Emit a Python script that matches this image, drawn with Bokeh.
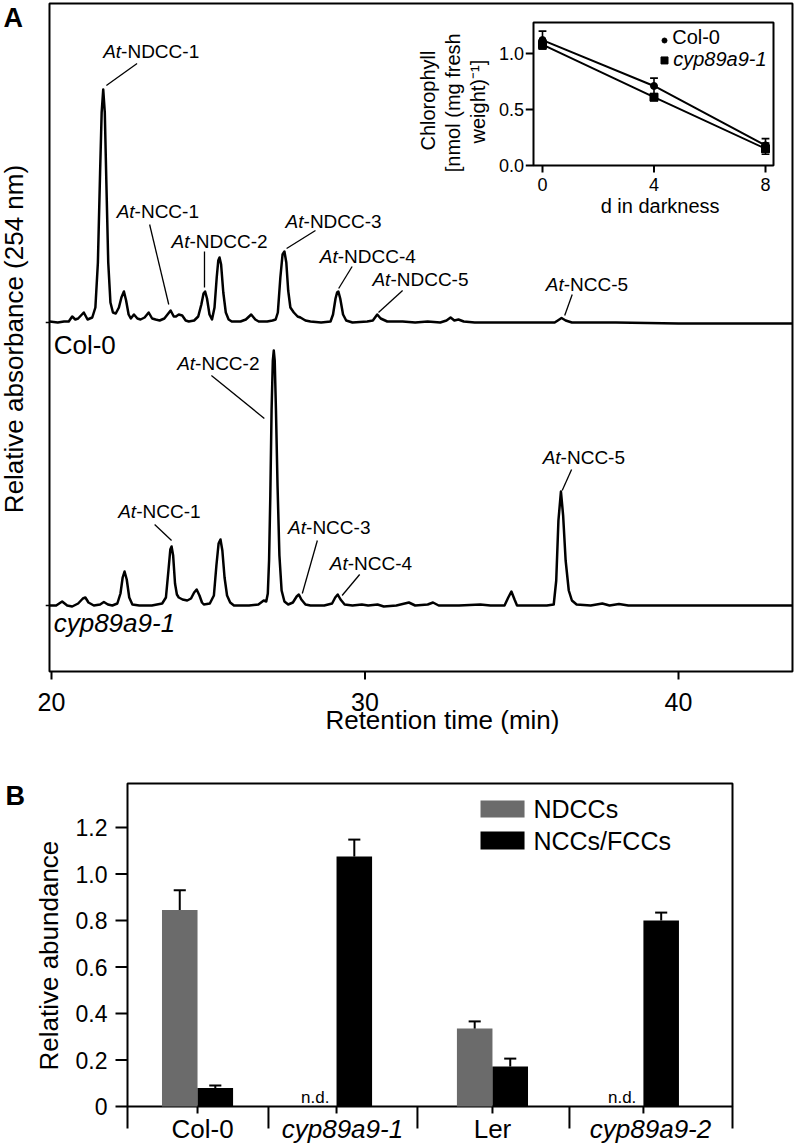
import math
from bokeh.plotting import figure
from bokeh.models import Range1d, ColumnDataSource
from bokeh.embed import file_html
from bokeh.resources import INLINE
from bokeh.core.properties import value

FONT = "Liberation Sans"

# ---------------- Panel A data: chromatograms ----------------
col0_time = [19.94, 20.20, 20.40, 20.55, 20.66, 20.76, 20.85, 21.03, 21.15, 21.30,
             21.40, 21.48, 21.55, 21.60, 21.65, 21.70, 21.75, 21.81, 21.88, 21.96,
             22.05, 22.15, 22.23, 22.31, 22.38, 22.46, 22.53, 22.63, 22.74, 22.84,
             22.97, 23.10, 23.21, 23.32, 23.45, 23.60, 23.80, 23.90, 23.97, 24.06,
             24.17, 24.28, 24.38, 24.55, 24.68, 24.78, 24.85, 24.90, 24.96, 25.04,
             25.12, 25.20, 25.27, 25.32, 25.36, 25.41, 25.48, 25.56, 25.65, 25.75,
             26.03, 26.20, 26.37, 26.50, 26.61, 26.88, 27.05, 27.15, 27.22, 27.30,
             27.37, 27.43, 27.49, 27.55, 27.62, 27.73, 27.85, 27.94, 28.10, 28.26,
             28.60, 28.90, 28.98, 29.06, 29.11, 29.15, 29.21, 29.30, 29.40, 29.60,
             30.07, 30.25, 30.39, 30.50, 30.71, 31.20, 31.60, 32.00, 32.40, 32.60,
             32.73, 32.85, 32.98, 33.15, 33.50, 34.50, 35.50, 36.05, 36.15, 36.27,
             36.40, 36.60, 38.00, 40.00, 43.63]
col0_abs = [0.01, 0.00, 0.01, 0.01, 0.06, 0.03, 0.04, 0.10, 0.03, 0.05,
            0.15, 0.60, 1.50, 2.10, 2.33, 2.10, 1.40, 0.60, 0.20, 0.10,
            0.09, 0.15, 0.25, 0.31, 0.22, 0.08, 0.04, 0.08, 0.04, 0.03,
            0.05, 0.10, 0.04, 0.03, 0.02, 0.04, 0.12, 0.06, 0.06, 0.08,
            0.07, 0.02, 0.01, 0.02, 0.06, 0.18, 0.29, 0.31, 0.24, 0.08,
            0.03, 0.15, 0.45, 0.62, 0.65, 0.58, 0.30, 0.10, 0.03, 0.01,
            0.01, 0.03, 0.08, 0.03, 0.01, 0.01, 0.02, 0.03, 0.10, 0.45,
            0.68, 0.71, 0.60, 0.32, 0.15, 0.10, 0.06, 0.05, 0.02, 0.01,
            0.00, 0.01, 0.08, 0.24, 0.30, 0.31, 0.24, 0.08, 0.02, 0.00,
            0.01, 0.02, 0.08, 0.04, 0.01, 0.01, 0.00, 0.01, 0.00, 0.02,
            0.05, 0.02, 0.03, 0.01, 0.00, 0.00, 0.00, 0.00, 0.02, 0.045,
            0.02, 0.00, 0.00, -0.01, -0.01]

cyp_time = [19.94, 20.15, 20.34, 20.50, 20.66, 20.85, 21.00, 21.08, 21.18, 21.35,
            21.55, 21.67, 21.80, 21.94, 22.10, 22.20, 22.27, 22.33, 22.40, 22.48,
            22.58, 22.80, 23.20, 23.53, 23.65, 23.73, 23.79, 23.83, 23.88, 23.94,
            24.00, 24.06, 24.18, 24.33, 24.45, 24.55, 24.63, 24.72, 24.80, 24.86,
            25.05, 25.18, 25.26, 25.33, 25.39, 25.45, 25.52, 25.60, 25.70, 25.82,
            26.30, 26.60, 26.77, 26.85, 26.90, 26.94, 26.98, 27.02, 27.06, 27.09,
            27.12, 27.16, 27.21, 27.27, 27.34, 27.43, 27.55, 27.70, 27.82, 27.89,
            27.97, 28.10, 28.26, 28.70, 28.95, 29.05, 29.13, 29.22, 29.35, 29.60,
            29.90, 30.10, 30.40, 30.60, 31.00, 31.40, 31.60, 32.00, 32.17, 32.35,
            33.00, 33.68, 34.00, 34.45, 34.57, 34.67, 34.77, 34.85, 35.30, 35.80,
            36.02, 36.10, 36.17, 36.25, 36.32, 36.40, 36.50, 36.60, 36.75, 37.20,
            37.57, 37.80, 38.10, 38.40, 40.00, 43.63]
cyp_abs = [0.00, 0.00, 0.04, 0.00, -0.01, 0.02, 0.07, 0.08, 0.03, 0.00,
           0.01, 0.035, 0.01, 0.00, 0.02, 0.12, 0.28, 0.34, 0.26, 0.08,
           0.01, 0.00, 0.00, 0.02, 0.08, 0.35, 0.56, 0.59, 0.50, 0.22,
           0.11, 0.08, 0.06, 0.05, 0.07, 0.13, 0.16, 0.10, 0.03, 0.01,
           0.02, 0.10, 0.40, 0.62, 0.66, 0.55, 0.28, 0.10, 0.03, 0.00,
           0.00, 0.01, 0.05, 0.04, 0.12, 0.45, 1.10, 1.95, 2.45, 2.55,
           2.45, 1.95, 1.20, 0.50, 0.15, 0.04, 0.01, 0.03, 0.09, 0.11,
           0.06, 0.01, 0.00, 0.00, 0.02, 0.08, 0.11, 0.06, 0.01, 0.00,
           0.01, 0.00, 0.01, -0.01, 0.00, 0.03, 0.00, 0.01, 0.03, 0.00,
           0.00, 0.01, 0.00, 0.00, 0.08, 0.14, 0.06, 0.00, 0.00, 0.00,
           0.01, 0.25, 0.85, 1.14, 0.90, 0.45, 0.15, 0.05, 0.01, 0.00,
           0.02, 0.00, 0.015, 0.00, 0.00, 0.00]

x_ticks_a = [20, 30, 40]
trace_names = ["Col-0", "cyp89a9-1"]
peak_prefix = "At"
peak_names = ["NDCC-1", "NCC-1", "NDCC-2", "NDCC-3", "NDCC-4", "NDCC-5", "NCC-5",
              "NCC-2", "NCC-1", "NCC-3", "NCC-4", "NCC-5"]

# ---------------- Inset data: chlorophyll ----------------
dark_days = [0, 4, 8]
chl_col0 = [1.12, 0.71, 0.18]
chl_col0_err = [0.08, 0.07, 0.06]
chl_cyp = [1.08, 0.61, 0.15]
chl_cyp_err = [0.04, 0.03, 0.05]
inset_yticks = [0.0, 0.5, 1.0]

# ---------------- Panel B data ----------------
genotypes = ["Col-0", "cyp89a9-1", "Ler", "cyp89a9-2"]
genotype_italic = [False, True, False, True]
ndcc = [0.845, None, 0.335, None]
ndcc_err = [0.085, None, 0.031, None]
ncc = [0.08, 1.075, 0.172, 0.80]
ncc_err = [0.01, 0.073, 0.034, 0.034]
b_yticks = [0, 0.2, 0.4, 0.6, 0.8, 1.0, 1.2]
b_ytick_labels = ["0", "0.2", "0.4", "0.6", "0.8", "1.0", "1.2"]
series_names = ["NDCCs", "NCCs/FCCs"]

# ---------------- layout constants (positions, not data) ----------------
BLACK = "black"
GRAY = "#6b6b6b"
COL0_OFFSET = 2.83
# panel A frame (minutes / absorbance units)
A_X0, A_X1, A_Y0, A_Y1 = 19.936, 43.636, -0.66, 6.02
label_t = [22.22, 22.65, 24.40, 28.04, 29.13, 30.81, 36.34, 24.58, 22.70, 28.12, 29.45, 36.24]
label_y = [5.545, 3.945, 3.645, 3.845, 3.495, 3.265, 3.215, 2.425, 0.945, 0.785, 0.425, 1.485]
lead_t0 = [22.73, 23.13, 24.88, 28.42, 29.59, 31.20, 36.61, 25.10, 23.29, 28.48, 29.83, 36.59]
lead_y0 = [5.42, 3.81, 3.54, 3.75, 3.39, 3.15, 3.11, 2.30, 0.81, 0.65, 0.31, 1.36]
lead_t1 = [21.75, 23.74, 24.88, 27.50, 29.16, 30.43, 36.37, 26.79, 23.83, 28.00, 29.27, 36.29]
lead_y1 = [5.20, 3.01, 3.18, 3.57, 3.17, 2.93, 2.90, 1.87, 0.65, 0.12, 0.10, 1.15]
# inset frame (days / chlorophyll)
IX0, IX1, IY0, IY1 = -0.323, 8.287, 0.0, 1.277
# panel B geometry (group units / abundance)
group_x = [0.463, 1.382, 2.413, 3.411]
group_sep = [0.0, 0.932, 1.917, 2.922, 4.0]
cat_label_x = [0.496, 1.421, 2.413, 3.458]
BW = 0.235
B_X0, B_X1, B_Y0, B_Y1 = 0.0, 4.0, 0.0, 1.389


def txt(p, x, y, text, size, align="left", baseline="middle", style="normal", angle=0.0, **kw):
    p.text(x=x, y=y, text=text, text_align=align, text_baseline=baseline, angle=angle,
           text_font=value(FONT), text_font_style=style, text_font_size=size,
           text_color=BLACK, **kw)


W, H = 796, 1146
p = figure(width=W, height=H, output_backend="svg", toolbar_location=None, title=None,
           x_axis_location=None, y_axis_location=None, min_border=0,
           x_range=Range1d(18.3732, 43.7640), y_range=Range1d(-5.41, 6.05))
p.grid.visible = False
p.outline_line_color = None
p.background_fill_color = "white"
p.border_fill_color = "white"
p.extra_x_ranges = {"ix": Range1d(-19.4439, 9.1121), "bx": Range1d(-0.83967, 4.42314)}
p.extra_y_ranges = {"iy": Range1d(-8.7589, 1.4732), "by": Range1d(-0.17204, 4.75699)}
IR = dict(x_range_name="ix", y_range_name="iy")
BR = dict(x_range_name="bx", y_range_name="by")

# ======================= Panel A =======================
p.quad(left=[A_X0], right=[A_X1], bottom=[A_Y0], top=[A_Y1], fill_color=None,
       line_color=BLACK, line_width=2)
p.segment(x0=x_ticks_a, x1=x_ticks_a, y0=[A_Y0] * 3, y1=[A_Y0 - 0.08] * 3,
          line_color=BLACK, line_width=2)
txt(p, x_ticks_a, [-0.96] * 3, [str(t) for t in x_ticks_a], "25px", align="center")
p.segment(x0=[A_X0] * 2, x1=[A_X0 - 0.12] * 2, y0=[0, COL0_OFFSET], y1=[0, COL0_OFFSET],
          line_color=BLACK, line_width=1.5)
txt(p, [32.47], [-1.149], ["Retention time (min)"], "26px", align="center")
txt(p, [18.81], [2.665], ["Relative absorbance (254 nm)"], "26px", align="center",
    angle=math.pi / 2)
txt(p, [18.47], [5.875], ["A"], "27px", style="bold")

p.line(col0_time, [a + COL0_OFFSET for a in col0_abs], line_width=2.5, line_color=BLACK,
       line_join="round")
p.line(cyp_time, cyp_abs, line_width=2.5, line_color=BLACK, line_join="round")

lab_src = ColumnDataSource(dict(x=label_t, y=label_y,
                                pre=[peak_prefix] * len(peak_names),
                                suf=["-" + n for n in peak_names]))
txt(p, "x", "y", "pre", "19px", align="right", style="italic", source=lab_src)
txt(p, "x", "y", "suf", "19px", align="left", source=lab_src)
p.segment(x0=lead_t0, y0=lead_y0, x1=lead_t1, y1=lead_y1, line_width=1.3, line_color=BLACK)

txt(p, [20.07], [2.608], [trace_names[0]], "26px")
txt(p, [20.07], [-0.179], [trace_names[1]], "26px", style="italic")

# ---------------- inset ----------------
p.quad(left=[IX0], right=[IX1], bottom=[IY0], top=[IY1], fill_color=None,
       line_color=BLACK, line_width=2, **IR)
p.segment(x0=[IX0] * 3, x1=[-0.60] * 3, y0=inset_yticks, y1=inset_yticks,
          line_color=BLACK, line_width=2, **IR)
p.segment(x0=dark_days, x1=dark_days, y0=[IY0] * 3, y1=[-0.0625] * 3,
          line_color=BLACK, line_width=2, **IR)
txt(p, [-0.66] * 3, inset_yticks, ["%.1f" % v for v in inset_yticks], "18px", align="right", **IR)
txt(p, dark_days, [-0.167] * 3, [str(d) for d in dark_days], "18px", align="center", **IR)
txt(p, [4.22], [-0.363], ["d in darkness"], "20px", align="center", **IR)
txt(p, [-4.09, -3.20, -2.30], [0.58, 0.56, 0.57],
    ["Chlorophyll", "[nmol (mg fresh", "weight)\u207b\u00b9]"], "20px",
    align="center", angle=math.pi / 2, **IR)

CAP = 0.14
for vals, errs in ((chl_col0, chl_col0_err), (chl_cyp, chl_cyp_err)):
    lo = [v - e for v, e in zip(vals, errs)]
    hi = [v + e for v, e in zip(vals, errs)]
    xl = [d - CAP for d in dark_days]
    xr = [d + CAP for d in dark_days]
    p.segment(x0=dark_days, x1=dark_days, y0=lo, y1=hi, line_color=BLACK, line_width=1.6, **IR)
    p.segment(x0=xl, x1=xr, y0=hi, y1=hi, line_color=BLACK, line_width=1.6, **IR)
    p.segment(x0=xl, x1=xr, y0=lo, y1=lo, line_color=BLACK, line_width=1.6, **IR)
p.line(dark_days, chl_col0, line_color=BLACK, line_width=2, **IR)
p.line(dark_days, chl_cyp, line_color=BLACK, line_width=2, **IR)
p.scatter(dark_days, chl_col0, marker="circle", size=7, color=BLACK, **IR)
p.scatter(dark_days, chl_cyp, marker="square", size=8, color=BLACK, **IR)

p.scatter([4.377], [1.116], marker="circle", size=5, color=BLACK, **IR)
p.scatter([4.377], [0.938], marker="square", size=7, color=BLACK, **IR)
txt(p, [4.653], [1.149], [trace_names[0]], "20px", **IR)
txt(p, [4.69], [0.955], [trace_names[1]], "20px", style="italic", **IR)

# ======================= Panel B =======================
p.quad(left=[B_X0], right=[B_X1], bottom=[B_Y0], top=[B_Y1], fill_color=None,
       line_color=BLACK, line_width=2, **BR)
p.segment(x0=[B_X0] * len(b_yticks), x1=[-0.0793] * len(b_yticks), y0=b_yticks, y1=b_yticks,
          line_color=BLACK, line_width=2, **BR)
txt(p, [-0.132] * len(b_yticks), b_yticks, b_ytick_labels, "23px", align="right", **BR)
p.segment(x0=group_x, x1=group_x, y0=[B_Y0] * 4, y1=[-0.030] * 4,
          line_color=BLACK, line_width=2, **BR)
p.segment(x0=group_sep, x1=group_sep, y0=[B_Y0] * 5, y1=[-0.0946] * 5,
          line_color=BLACK, line_width=2, **BR)

ndcc_x = [c - BW / 2 for c in group_x]
ncc_x = [c + BW / 2 for c in group_x]
for i, g in enumerate(genotypes):
    c = group_x[i]
    if ndcc[i] is not None:
        top = ndcc[i] + ndcc_err[i]
        p.quad(left=[c - BW], right=[c], bottom=[0], top=[ndcc[i]], fill_color=GRAY,
               line_color=None, **BR)
        p.segment(x0=[ndcc_x[i]], x1=[ndcc_x[i]], y0=[ndcc[i]], y1=[top],
                  line_color=BLACK, line_width=2, **BR)
        p.segment(x0=[ndcc_x[i] - 0.04], x1=[ndcc_x[i] + 0.04], y0=[top], y1=[top],
                  line_color=BLACK, line_width=2, **BR)
    else:
        txt(p, [c - 0.047], [0.0387], ["n.d."], "17px", align="right", **BR)
    top = ncc[i] + ncc_err[i]
    p.quad(left=[c], right=[c + BW], bottom=[0], top=[ncc[i]], fill_color=BLACK,
           line_color=None, **BR)
    p.segment(x0=[ncc_x[i]], x1=[ncc_x[i]], y0=[ncc[i]], y1=[top],
              line_color=BLACK, line_width=2, **BR)
    p.segment(x0=[ncc_x[i] - 0.04], x1=[ncc_x[i] + 0.04], y0=[top], y1=[top],
              line_color=BLACK, line_width=2, **BR)
    txt(p, [cat_label_x[i]], [-0.0985], [g], "26px", align="center",
        style="italic" if genotype_italic[i] else "normal", **BR)

# legend
p.quad(left=[2.334], right=[2.625], bottom=[1.243], top=[1.316], fill_color=GRAY,
       line_color=None, **BR)
p.quad(left=[2.334], right=[2.625], bottom=[1.105], top=[1.183], fill_color=BLACK,
       line_color=None, **BR)
txt(p, [2.684, 2.684], [1.28, 1.142], series_names, "25px", **BR)

txt(p, [-0.8066], [1.3355], ["B"], "27px", style="bold", **BR)
txt(p, [-0.522], [0.649], ["Relative abundance"], "26px", align="center",
    angle=math.pi / 2, **BR)

open("out.html", "w").write(file_html(p, INLINE))
